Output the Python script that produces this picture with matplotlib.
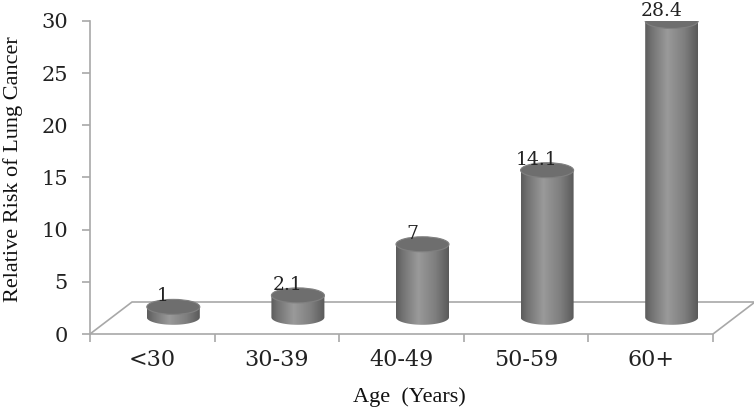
import numpy as np
import matplotlib
matplotlib.use("Agg")
import matplotlib.pyplot as plt
from matplotlib.patches import Polygon, Ellipse
from matplotlib.colors import LinearSegmentedColormap

categories = ["<30", "30-39", "40-49", "50-59", "60+"]
values = [1, 2.1, 7, 14.1, 28.4]
value_labels = ["1", "2.1", "7", "14.1", "28.4"]
yticks = [0, 5, 10, 15, 20, 25, 30]

W, H = 754, 411
fig = plt.figure(figsize=(W / 100, H / 100), dpi=100)
fig.patch.set_facecolor("white")

ax_l, ax_r, ax_t, ax_b = 90, 713, 21, 334
ax = fig.add_axes([ax_l / W, 1 - ax_b / H, (ax_r - ax_l) / W, (ax_b - ax_t) / H])
n = len(categories)
ax.set_xlim(-0.5, n - 0.5)
ax.set_ylim(0, 30)

px_x = (ax_r - ax_l) / n          # px per category
px_y = (ax_b - ax_t) / 30.0       # px per unit

# 3D depth offset (floor)
dx = 42 / px_x
dy = 32 / px_y
grid_col = "#a8a8a8"
floor = Polygon([(-0.5, 0), (n - 0.5, 0), (n - 0.5 + dx, dy), (-0.5 + dx, dy)],
                closed=True, facecolor="white", edgecolor=grid_col, lw=1.2,
                clip_on=False, zorder=1)
ax.add_patch(floor)

# cylinders
hw = 26.5 / px_x
eh = 7.5 / px_y
base = 1.6
cmap = LinearSegmentedColormap.from_list(
    "cyl", [(0, "#5c5c5c"), (0.12, "#727272"), (0.42, "#9a9a9a"),
            (0.75, "#7e7e7e"), (1.0, "#5a5a5a")])
grad = np.linspace(0, 1, 200).reshape(1, -1)
t = np.linspace(np.pi, 2 * np.pi, 60)
for i, v in enumerate(values):
    xc = i + dx / 2
    top = v + base
    xs = xc + hw * np.cos(t)
    ys = base + eh * np.sin(t)
    pts = [(xc - hw, top)] + list(zip(xs, ys)) + [(xc + hw, top)]
    body = Polygon(pts, closed=True, facecolor="none", edgecolor="none", zorder=3)
    ax.add_patch(body)
    im = ax.imshow(grad, cmap=cmap, aspect="auto",
                   extent=[xc - hw, xc + hw, base - eh, top],
                   zorder=3, interpolation="bilinear", clip_on=True)
    im.set_clip_path(body)
    cap = Ellipse((xc, top), 2 * hw, 2 * eh, facecolor="#6e6e6e",
                  edgecolor="#808080", lw=0.8, zorder=4)
    ax.add_patch(cap)
    ax.annotate(value_labels[i], (xc, top + eh), xytext=(-7.5, -1.5),
                textcoords="offset points", ha="center", va="baseline",
                fontsize=13.5, family="DejaVu Serif", color="#222222",
                zorder=5, annotation_clip=False)

ax.set_xlim(-0.5, n - 0.5)
ax.set_ylim(0, 30)

# axes styling
for s in ["top", "right", "bottom"]:
    ax.spines[s].set_visible(False)
ax.spines["left"].set_color(grid_col)
ax.spines["left"].set_linewidth(1.2)

ax.set_yticks(yticks)
ax.set_yticklabels([str(y) for y in yticks], family="DejaVu Serif",
                   fontsize=15, color="#222222")
ax.tick_params(axis="y", direction="out", length=6, width=1.2,
               color=grid_col, pad=10)

ax.set_xticks(range(n))
ax.set_xticklabels(categories, family="DejaVu Serif", fontsize=16,
                   color="#222222")
ax.set_xticks(np.arange(-0.5, n, 1.0), minor=True)
ax.tick_params(axis="x", which="major", length=0, pad=11)
ax.tick_params(axis="x", which="minor", direction="out", length=5.5,
               width=1.2, color=grid_col)

ax.set_facecolor("none")

fig.text(13 / W, 1 - 169 / H, "Relative Risk of Lung Cancer", rotation=90,
         ha="center", va="center", family="Liberation Serif", fontsize=16,
         color="#111111")
fig.text(409 / W, 1 - 397 / H, "Age  (Years)", ha="center", va="center",
         family="Liberation Serif", fontsize=16, color="#111111")

fig.savefig("out.png", dpi=100, facecolor="white")
